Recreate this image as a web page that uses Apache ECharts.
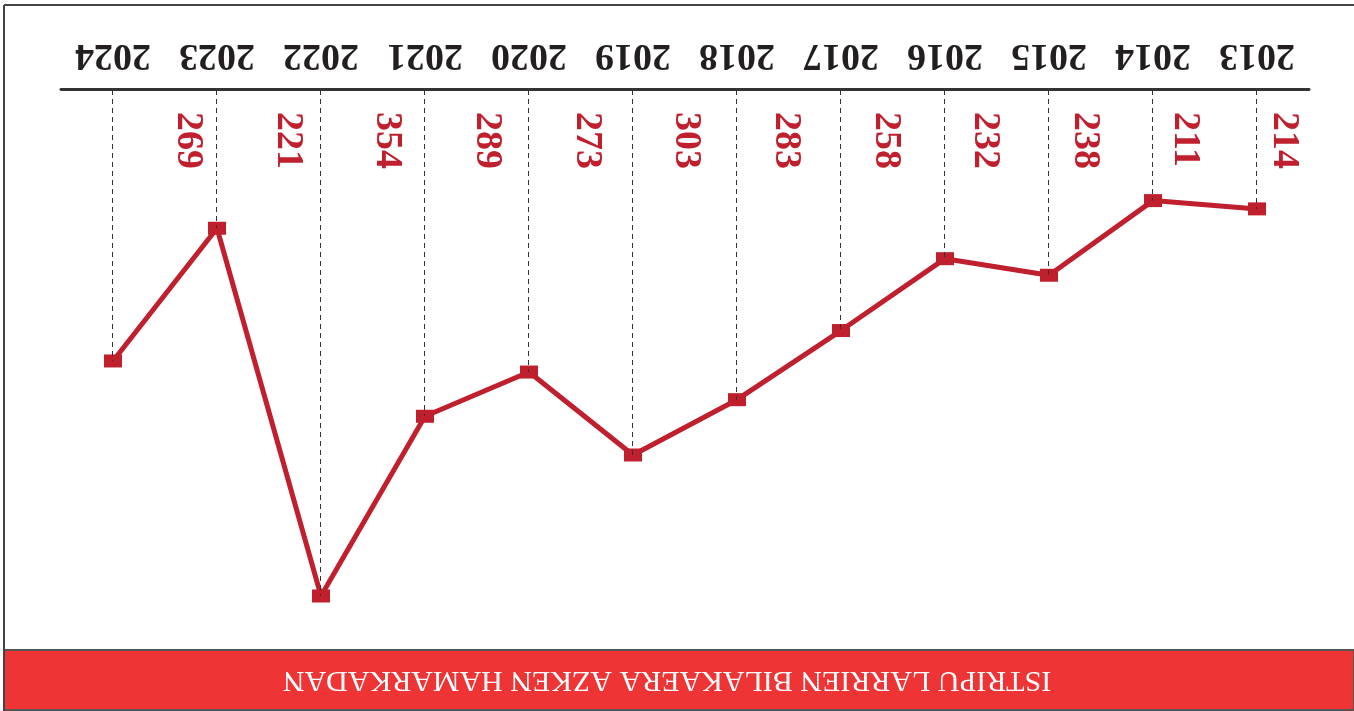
<html>
<head>
<meta charset="UTF-8">
<title>Istripu larriak</title>
<script src="https://cdn.jsdelivr.net/npm/echarts@6/dist/echarts.min.js"></script>
<style>
body { margin: 0; background: #fff; }
/* the reference is printed upside down, so the whole chart is turned */
#chart { width: 1354px; height: 711px; transform: rotate(180deg); }
</style>
</head>
<body>

<div id="chart"></div>

<script>
var years = ['2013', '2014', '2015', '2016', '2017', '2018', '2019', '2020', '2021', '2022', '2023', '2024'];
var accidents = [214, 211, 238, 232, 258, 283, 303, 273, 289, 354, 221, 269];
var titleText = 'ISTRIPU LARRIEN BILAKAERA AZKEN HAMARKADAN';

var yMin = 171;
var yMax = 371;
var red = '#c01f2e';
var font = '"Liberation Serif", "DejaVu Serif", serif';

var myChart = echarts.init(document.getElementById('chart'));

// dashed drop lines from the axis to each point
var dropLines = [];
for (var i = 0; i < years.length; i++) {
    dropLines.push([{ coord: [years[i], yMin] }, { coord: [years[i], accidents[i]] }]);
}

// value labels sit on their own row just above the axis
var labelRow = [];
for (var j = 0; j < years.length; j++) {
    labelRow.push([years[j], 0, accidents[j]]);
}

var option = {
    animation: false,
    backgroundColor: '#fff',
    grid: [
        { left: 45, right: 61, top: 68, bottom: 90 },
        { left: 70, right: 188, top: 598, height: 1 }
    ],
    xAxis: [
        {
            type: 'category',
            data: years,
            boundaryGap: true,
            axisLine: { lineStyle: { color: '#333', width: 3 } },
            axisTick: { show: false },
            splitLine: { show: false },
            axisLabel: {
                color: '#231f20',
                fontFamily: font,
                fontWeight: 'bold',
                fontSize: 38,
                margin: 16
            }
        },
        { type: 'category', gridIndex: 1, data: years, boundaryGap: false, show: false }
    ],
    yAxis: [
        { type: 'value', min: yMin, max: yMax, show: false },
        { type: 'value', gridIndex: 1, min: 0, max: 1, show: false }
    ],
    graphic: [
        {
            type: 'rect',
            shape: { x: 0, y: 1, width: 1350, height: 60 },
            style: { fill: '#ee3434', stroke: '#555', lineWidth: 2 }
        },
        {
            type: 'line',
            shape: { x1: 1350, y1: 0, x2: 1350, y2: 706 },
            style: { stroke: '#444', lineWidth: 2 }
        },
        {
            type: 'line',
            shape: { x1: 0, y1: 706, x2: 1350, y2: 706 },
            style: { stroke: '#444', lineWidth: 2 }
        },
        {
            type: 'text',
            x: 687,
            y: 31,
            style: {
                text: titleText,
                fill: '#fff',
                font: '30px "Liberation Serif", serif',
                align: 'center',
                verticalAlign: 'middle'
            }
        }
    ],
    series: [
        {
            type: 'line',
            data: accidents,
            symbol: 'rect',
            symbolSize: [18, 13],
            lineStyle: { color: red, width: 5 },
            itemStyle: { color: red },
            z: 3,
            markLine: {
                silent: true,
                symbol: 'none',
                label: { show: false },
                lineStyle: { type: [5, 4], color: '#333', width: 1 },
                data: dropLines
            }
        },
        {
            type: 'scatter',
            xAxisIndex: 1,
            yAxisIndex: 1,
            data: labelRow,
            symbolSize: 1,
            itemStyle: { color: 'rgba(0,0,0,0)', opacity: 1 },
            label: {
                show: true,
                position: 'inside',
                rotate: 90,
                align: 'left',
                verticalAlign: 'middle',
                color: red,
                opacity: 1,
                fontFamily: font,
                fontWeight: 'bold',
                fontSize: 38,
                formatter: function (p) { return p.data[2]; }
            }
        }
    ]
};

myChart.setOption(option);
</script>
</body>
</html>
